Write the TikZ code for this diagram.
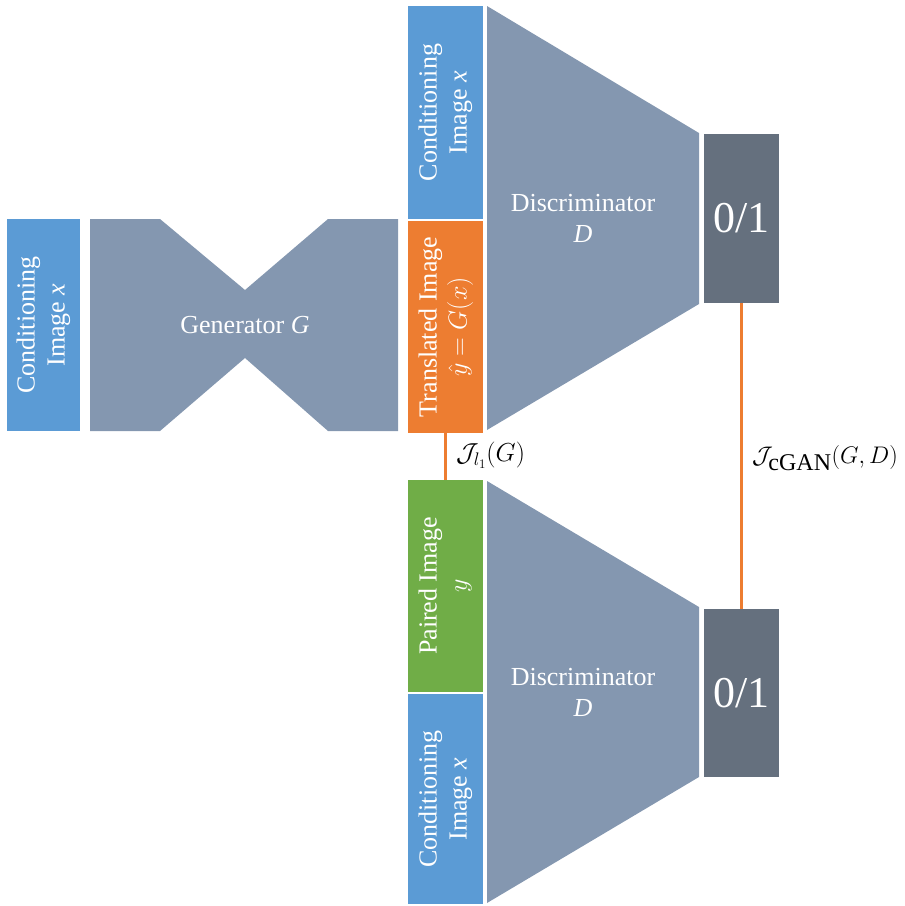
\RequirePackage{fix-cm}
\documentclass[tikz,border=0pt]{standalone}
\usepackage{fontspec}
\setmainfont{Liberation Serif}
\usepackage{graphicx}
\definecolor{cblue}{HTML}{5B9BD5}
\definecolor{corange}{HTML}{ED7D31}
\definecolor{cgreen}{HTML}{70AD47}
\definecolor{cgray}{HTML}{8497B0}
\definecolor{cdark}{HTML}{65707E}
\newcommand{\rotlabel}[1]{\rotatebox{90}{\begin{tabular}{@{}c@{}}#1\end{tabular}}}
\begin{document}
\begin{tikzpicture}[x=1pt,y=-1pt,
  imgbox/.style={rectangle, inner sep=0pt, text=white, minimum width=75pt,
    font=\fontsize{26}{30}\selectfont},
  outbox/.style={rectangle, fill=cdark, inner sep=0pt, text=white, minimum width=75pt,
    font=\fontsize{44}{48}\selectfont},
  netlbl/.style={text=white, align=center, font=\fontsize{26}{31}\selectfont},
  netshape/.style={fill=cgray},
  conn/.style={draw=corange, line width=2.6pt},
  lbl/.style={inner sep=0pt, font=\fontsize{26}{30}\selectfont}]
\useasboundingbox (0,0) rectangle (905,906);
% generator
\fill[netshape] (90,219) -- (160,219) -- (245,290) -- (328,219) -- (398,219) -- (398,431)
  -- (328,431) -- (245,358) -- (160,431) -- (90,431) -- cycle;
\node[netlbl] (gen) at (245,325) {Generator \textit{G}};
\node[imgbox, fill=cblue, minimum width=73pt, minimum height=212pt] (condG) at (43.5,325)
  {\rotlabel{Conditioning\\Image \textit{x}}};
% top discriminator
\fill[netshape] (487,6) -- (699,133) -- (699,304) -- (487,430) -- cycle;
\node[netlbl] (disc1) at (583,218) {Discriminator\\\textit{D}};
\node[imgbox, fill=cblue, minimum height=213pt] (cond1) at (445.5,112.5)
  {\rotlabel{Conditioning\\Image \textit{x}}};
\node[imgbox, fill=corange, minimum height=212pt] (trans) at (445.5,327)
  {\rotlabel{Translated Image\\$\hat{y} = G(x)$}};
\node[outbox, minimum height=169pt] (out1) at (741.5,218.5) {0/1};
% bottom discriminator
\fill[netshape] (487,481) -- (699,607) -- (699,777) -- (487,903) -- cycle;
\node[netlbl] (disc2) at (583,692) {Discriminator\\\textit{D}};
\node[imgbox, fill=cgreen, minimum height=212pt] (paired) at (445.5,586)
  {\rotlabel{Paired Image\\$y$}};
\node[imgbox, fill=cblue, minimum height=210pt] (cond2) at (445.5,799)
  {\rotlabel{Conditioning\\Image \textit{x}}};
\node[outbox, minimum height=168pt] (out2) at (741.5,693) {0/1};
% losses
\draw[conn] (trans.south) -- (paired.north);
\draw[conn] (out1.south) -- (out2.north);
\node[lbl, anchor=west] (l1) at (456,455) {$\mathcal{J}_{l_1}(G)$};
\node[lbl, anchor=west, font=\fontsize{24}{28}\selectfont] (lgan) at (752,458)
  {$\mathcal{J}_{\textstyle\mathrm{cGAN}}(G,D)$};
\end{tikzpicture}
\end{document}
